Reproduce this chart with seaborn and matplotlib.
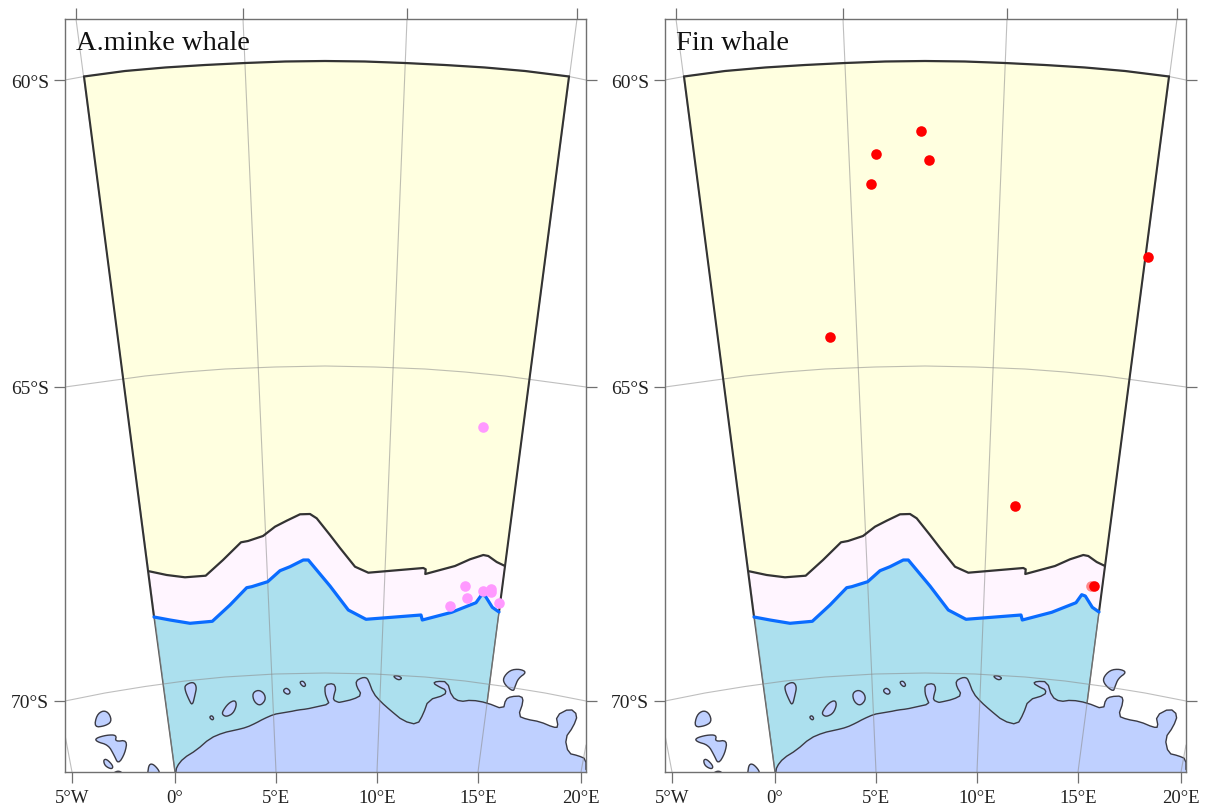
import numpy as np
import matplotlib
matplotlib.use("Agg")
import matplotlib.pyplot as plt
import seaborn as sns
import pandas as pd

# ---- map coordinates (map units, panel frame 65..586 / 19..772)
panel_titles = ["A.minke whale", "Fin whale"]
lon_ticks = [72, 175, 276, 377, 478, 581]
lon_labels = ["5°W", "0°", "5°E", "10°E", "15°E", "20°E"]
lon_top_ticks = [76, 243, 407, 577]
lat_ticks = [80, 387, 701]
lat_labels = ["60°S", "65°S", "70°S"]

par60_x = [54, 65, 84, 125, 165, 205, 245, 285, 325, 365, 405, 445, 485, 525, 569, 586]
par60_y = [80, 80, 76.5, 71, 67.5, 65, 63, 61.5, 61, 61.5, 63, 65, 67.5, 71, 76.5, 80]
par65_x = [65, 105, 145, 185, 225, 275, 325, 375, 425, 465, 505, 545, 586]
par65_y = [387, 381.5, 376, 372, 369, 367, 366, 367, 369, 372, 376, 381.5, 387]
par70_x = [65, 105, 145, 185, 225, 275, 325, 375, 425, 465, 505, 545, 586]
par70_y = [701, 693, 686.5, 681, 677, 674, 673, 674, 677, 681, 686.5, 693, 701]

mer_w5_x = [65, 72]; mer_w5_y = [735, 772]
mer_0_x = [76, 175]; mer_0_y = [19, 772]
mer_5_x = [243, 276]; mer_5_y = [19, 772]
mer_10_x = [407, 377]; mer_10_y = [19, 772]
mer_15_x = [577, 478]; mer_15_y = [19, 772]
mer_20_x = [581, 586]; mer_20_y = [772, 745]

top_x = par60_x[2:-1]
top_y = par60_y[2:-1]

edge_x = [149.3, 166.7, 185, 205.7, 223, 241, 248, 263, 275, 286.7, 300, 310, 316.7, 330, 340, 355, 368.3,
          423.3, 425.7, 425.3, 455, 470, 483.3, 488.3, 496.7, 505]
edge_y = [571.3, 575, 577.3, 575.7, 560, 542.3, 541, 536, 526.7, 520.7, 514.3, 514, 518.3, 535, 548, 566.7, 572.7,
          568, 569.3, 574, 566, 559.3, 555, 556, 562, 566]

blue_x = [154, 170, 190, 212.3, 230, 246.7, 251.7, 267.7, 280, 290, 303.3, 308.3, 330, 348.3, 366,
          421, 422.3, 451.7, 476, 481.7, 485.3, 492.3, 499]
blue_y = [617, 620, 623.3, 621.3, 605, 587.7, 586.7, 581.7, 570.7, 566.7, 560, 560, 586, 610, 619.3,
          615, 620, 612.3, 602.7, 594.7, 596, 607.3, 612]

coast_x = [175.7, 176.7, 183.3, 196.7, 210, 223.3, 236, 246.7, 256, 263.3, 274, 282, 290, 298, 306.7, 316, 329.3,
           327, 325, 325, 333.3, 336, 334, 333.3, 338.3, 340, 353.3, 361.7, 356.7, 356, 361.7, 366, 368.3, 373.3, 381,
           390, 403.3, 417.3, 423.3, 428.3, 445, 446, 440, 433.3, 436.7, 447.3, 451.7, 460, 471.7, 486.7, 503.3, 505.7,
           511, 521.7, 523.3, 518.3, 526.7, 540, 553.3, 558.3, 556, 570, 577.7, 573.3, 565, 568.3, 578.3, 586, 586]
coast_y = [773, 766.7, 758.3, 750, 738.3, 732.7, 730, 727.3, 723, 719, 714.3, 713, 711.7, 710, 709, 707, 704,
           699, 693.3, 685, 683.3, 688.3, 695, 700, 702.3, 702.3, 699.3, 695, 686.7, 681, 677.7, 677.5, 680, 693.3, 702,
           710, 721, 724.7, 714, 700, 695, 690, 687.3, 683.3, 681.3, 681.7, 696.7, 701.7, 700, 702.7, 709.3, 699.3,
           696.5, 696, 701.7, 716, 719.3, 721.7, 727.3, 727.3, 715.7, 708.3, 715, 726.7, 738.3, 753.3, 755.7, 759, 773]

isl_1_x = [185, 193.3, 196.7, 195, 192.3, 188.3, 185]; isl_1_y = [685, 681.7, 686.7, 695, 706, 698.3, 690]
isl_2_x = [209.3, 211.7, 214, 212.3]; isl_2_y = [717.3, 715.3, 718.3, 720.3]
isl_3_x = [222.3, 228.3, 235, 236.7, 233.3, 226.7, 222.7]; isl_3_y = [711.7, 703.3, 700, 705, 713.3, 716.7, 715]
isl_4_x = [252.3, 258.3, 264.3, 265.7, 260, 254]; isl_4_y = [693.3, 689.7, 693.3, 700, 706, 701.7]
isl_5_x = [283.3, 286.7, 290.7, 288.3, 284.3]; isl_5_y = [690, 687.7, 691.7, 694.7, 692.7]
isl_6_x = [300, 303.3, 306, 304, 300.7]; isl_6_y = [681.7, 681, 685, 687, 684.3]
isl_7_x = [94.3, 96.7, 103.3, 109.3, 111.7, 105]; isl_7_y = [727.3, 715, 710.3, 713.3, 721.7, 726]
isl_8_x = [95.3, 106.7, 116.7, 115, 127.3, 125, 118.3, 114, 108.3, 96.7]
isl_8_y = [738.3, 735, 735, 741.7, 740, 753.3, 764.3, 755, 745, 741.7]
isl_9_x = [103.3, 106.7, 113.3, 111.7, 105]; isl_9_y = [760, 759, 766, 769.3, 766]
isl_10_x = [113.3, 118.3, 122.7, 122.7, 113.3]; isl_10_y = [773, 770.7, 773, 775, 775]
isl_11_x = [147.7, 149, 153.3, 159.3, 159.3, 147.7]; isl_11_y = [773, 764.3, 764, 770.7, 775, 775]
isl_12_x = [392.7, 398.3, 402.3, 398.3]; isl_12_y = [676, 675.7, 678.3, 680.3]
isl_13_x = [502.7, 510, 520, 526.7, 518.3, 515, 513.3, 505]
isl_13_y = [678.3, 670, 669, 672.3, 678.3, 686.7, 691.7, 685]

minke_x = [483, 465.3, 467.3, 450, 482.7, 491.3, 491.3, 499]
minke_y = [427, 586, 597.7, 606, 590.7, 588.7, 592, 603]
fin_x = [321, 276, 329, 271, 548, 230, 415, 491, 494]
fin_y = [131, 154, 160, 184, 257, 337, 506, 586, 586]
fin_alpha_group = ["s", "s", "s", "s", "s", "s", "s", "f", "s"]

YELLOW, PINK, SEA, LAND = "#FFFFE0", "#FFF5FF", "#ACE0EE", "#BFD0FF"
FRAME = "#707070"
GRID = "#8a8a8a"


def rounded(x, y, n=2):
    """Corner-cutting for closed outlines, so they look as soft as the originals."""
    p = np.column_stack([np.asarray(x, float), np.asarray(y, float)])
    for _ in range(n):
        q = np.roll(p, -1, axis=0)
        p = np.hstack([0.75 * p + 0.25 * q, 0.25 * p + 0.75 * q]).reshape(-1, 2)
    return p[:, 0], p[:, 1]


def rounded_open(x, y):
    """Corner-cutting for an open outline, keeping both end points."""
    p = np.column_stack([np.asarray(x, float), np.asarray(y, float)])
    a, b = p[:-1], p[1:]
    m = np.hstack([0.75 * a + 0.25 * b, 0.25 * a + 0.75 * b]).reshape(-1, 2)
    m = np.vstack([p[0], m, p[-1]])
    return m[:, 0], m[:, 1]


def line(ax, x, y, color, lw, alpha=1.0, z=3):
    d = pd.DataFrame({"x": x, "y": y})
    sns.lineplot(data=d, x="x", y="y", sort=False, estimator=None, color=color, linewidth=lw,
                 alpha=alpha, ax=ax, zorder=z, legend=False)
    ax.lines[-1].set_solid_capstyle("round")
    ax.lines[-1].set_solid_joinstyle("round")


sns.set_style("white")
plt.rcParams["font.family"] = ["Liberation Serif", "DejaVu Serif"]

W, H = 1209, 812
fig = plt.figure(figsize=(W / 100, H / 100), dpi=100, facecolor="white")
islands = [(isl_1_x, isl_1_y), (isl_2_x, isl_2_y), (isl_3_x, isl_3_y), (isl_4_x, isl_4_y), (isl_5_x, isl_5_y),
           (isl_6_x, isl_6_y), (isl_7_x, isl_7_y), (isl_8_x, isl_8_y), (isl_9_x, isl_9_y), (isl_10_x, isl_10_y),
           (isl_11_x, isl_11_y), (isl_12_x, isl_12_y), (isl_13_x, isl_13_y)]
coast_sx, coast_sy = rounded_open(coast_x, coast_y)

for i, left in enumerate([65, 665]):
    ax = fig.add_axes([left / W, 1 - 773 / H, 521 / W, 753 / H])
    # filled zones
    ax.fill(top_x + edge_x[::-1], top_y + edge_y[::-1], color=YELLOW, lw=0, zorder=1)
    ax.fill(edge_x + blue_x[::-1], edge_y + blue_y[::-1], color=PINK, lw=0, zorder=1)
    ax.fill(blue_x + [478, 175], blue_y + [772, 772], color=SEA, lw=0, zorder=1)

    # sea edges
    line(ax, [154, 175], [617, 772], "#555555", 1.0, z=1.5)
    line(ax, [499, 478], [612, 772], "#555555", 1.0, z=1.5)

    # land
    ax.fill(coast_sx, coast_sy, facecolor=LAND, edgecolor="none", zorder=2)
    line(ax, coast_sx[:-1], coast_sy[:-1], "#3a3a44", 1.0, z=2.2)
    for ix, iy in islands:
        sx, sy = rounded(ix, iy)
        ax.fill(sx, sy, facecolor=LAND, edgecolor="#3a3a44", lw=1.0, zorder=2.2)

    # graticule
    for x, y in [(par60_x, par60_y), (par65_x, par65_y), (par70_x, par70_y), (mer_w5_x, mer_w5_y),
                 (mer_0_x, mer_0_y), (mer_5_x, mer_5_y), (mer_10_x, mer_10_y), (mer_15_x, mer_15_y),
                 (mer_20_x, mer_20_y)]:
        line(ax, x, y, GRID, 0.8, alpha=0.55, z=2.8)

    # zone boundaries
    west_x, west_y = [84, 154], [76.5, 617]
    east_x, east_y = [569, 499], [76.5, 612]
    line(ax, west_x, west_y, "#333333", 1.5, z=4)
    line(ax, east_x, east_y, "#333333", 1.5, z=4)
    line(ax, top_x, top_y, "#333333", 1.6, z=4)
    line(ax, edge_x, edge_y, "#333333", 1.6, z=4)
    line(ax, blue_x, blue_y, "#0A6CFF", 2.3, z=4)

    # sightings
    if i == 0:
        sns.scatterplot(x=minke_x, y=minke_y, color="#FF99FF", s=58, linewidth=0, ax=ax, zorder=5, legend=False)
    else:
        d = pd.DataFrame({"x": fin_x, "y": fin_y, "g": fin_alpha_group})
        f = d[d.g == "f"]; s = d[d.g == "s"]
        sns.scatterplot(data=f, x="x", y="y", color="#FF5A5A", alpha=0.7, s=58, linewidth=0, ax=ax, zorder=5, legend=False)
        sns.scatterplot(data=s, x="x", y="y", color="#FF0000", s=58, linewidth=0, ax=ax, zorder=5, legend=False)

    ax.set_xlim(65, 586)
    ax.set_ylim(772, 19)
    ax.set_xlabel(""); ax.set_ylabel("")
    ax.set_xticks(lon_ticks, lon_labels)
    ax.set_yticks(lat_ticks, lat_labels)
    ax.tick_params(axis="x", which="major", direction="out", length=8, width=0.9, color=FRAME, labelsize=13.5,
                   pad=4, labelcolor="#222222", bottom=True)
    ax.tick_params(axis="y", which="major", direction="out", length=8, width=0.9, color=FRAME, labelsize=14,
                   pad=3.5, labelcolor="#222222", left=True, right=True)
    sec = ax.secondary_xaxis("top")
    sec.set_xticks(lon_top_ticks, [""] * len(lon_top_ticks))
    sec.tick_params(direction="out", length=8, width=0.9, color=FRAME, top=True)
    sec.spines["top"].set_visible(False)
    for sp in ax.spines.values():
        sp.set_color(FRAME); sp.set_linewidth(1.0); sp.set_visible(True); sp.set_zorder(6)
    ax.text(76, 49.5, panel_titles[i], fontsize=20.5, color="#111111", ha="left", va="baseline", zorder=7)

fig.savefig("out.png", dpi=100)
